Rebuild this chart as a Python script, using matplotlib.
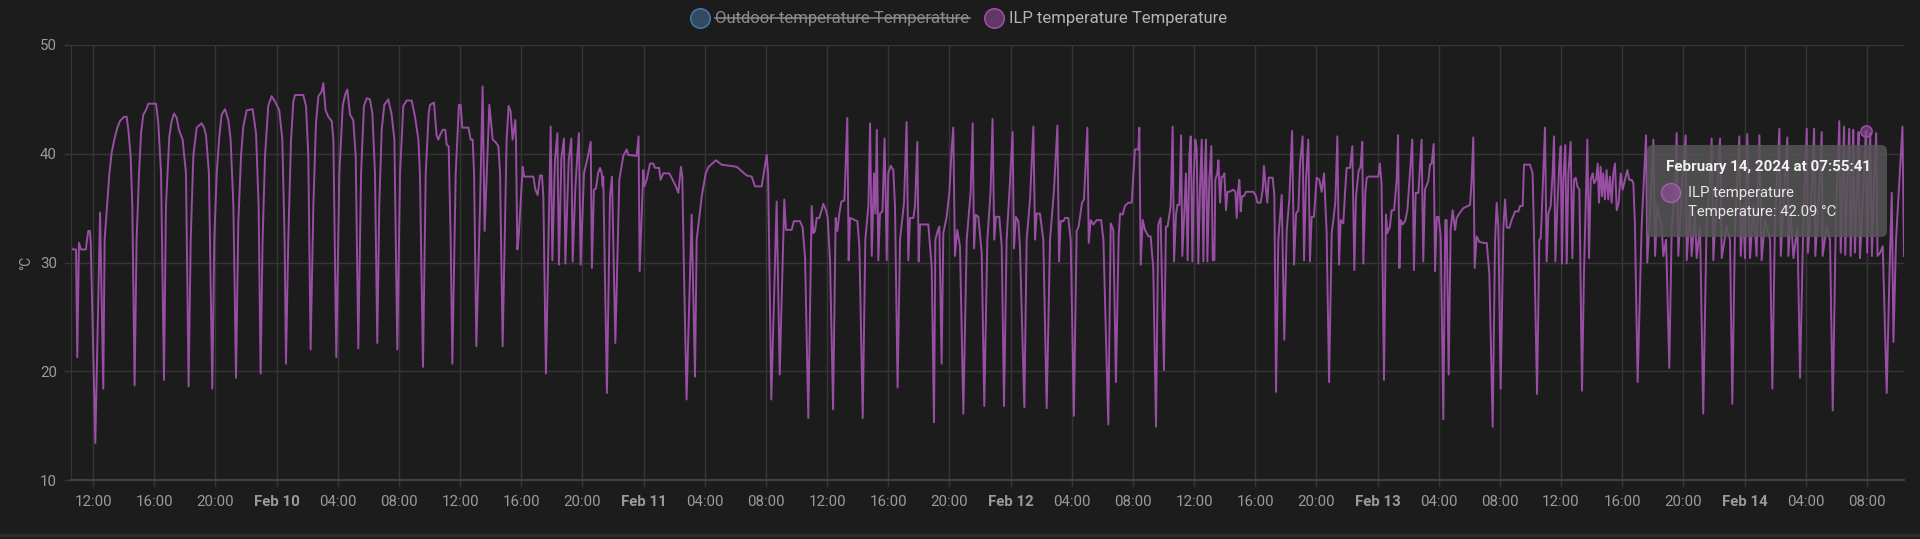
import numpy as np
import pandas as pd
import matplotlib
matplotlib.use("Agg")
import matplotlib.pyplot as plt
from matplotlib.patches import FancyBboxPatch, Circle
from matplotlib.lines import Line2D

plt.rcParams['font.family'] = ['Roboto', 'DejaVu Sans']

# ILP temperature readings, (hours since Feb 10 00:00, degC)
feb9_10 = [
    (-13.47, 31.7), (-13.41, 31.2), (-13.12, 31.2), (-13.04, 21.3), (-12.93, 31.8), (-12.80, 31.2),
    (-12.47, 31.2), (-12.43, 31.8), (-12.32, 32.9), (-12.21, 32.9), (-12.16, 31.8), (-11.86, 13.4),
    (-11.55, 34.6), (-11.34, 18.4), (-11.25, 32.1), (-10.94, 38.2), (-10.79, 40.1), (-10.62, 41.3),
    (-10.42, 42.4), (-10.25, 43.0), (-9.98, 43.4), (-9.81, 43.4), (-9.70, 42.2), (-9.55, 39.8),
    (-9.44, 35.2), (-9.29, 18.7), (-9.16, 32.1), (-9.00, 38.2), (-8.87, 41.9), (-8.72, 43.6),
    (-8.55, 44.0), (-8.39, 44.6), (-7.89, 44.6), (-7.74, 42.8), (-7.56, 38.2), (-7.37, 19.2),
    (-7.24, 35.2), (-7.02, 41.6), (-6.87, 43.0), (-6.71, 43.7), (-6.54, 43.3), (-6.39, 42.2),
    (-6.15, 41.3), (-5.93, 38.2), (-5.76, 18.6), (-5.62, 32.1), (-5.45, 39.8), (-5.23, 42.4),
    (-4.91, 42.8), (-4.75, 42.4), (-4.62, 41.7), (-4.43, 38.2), (-4.21, 18.4), (-4.08, 32.1),
    (-3.92, 38.2), (-3.75, 41.6), (-3.60, 43.6), (-3.38, 44.1), (-3.16, 43.1), (-3.01, 41.3),
    (-2.83, 35.2), (-2.66, 19.4), (-2.51, 33.6), (-2.33, 39.8), (-2.18, 42.5), (-1.96, 44.0),
    (-1.57, 44.1), (-1.35, 41.9), (-1.18, 35.2), (-1.05, 19.8), (-0.92, 32.1), (-0.76, 39.8),
    (-0.55, 44.4), (-0.33, 45.3), (-0.11, 44.8), (0.17, 44.0), (0.37, 41.3), (0.52, 32.1),
    (0.61, 20.7), (0.76, 32.1), (0.94, 41.3), (1.09, 44.8), (1.20, 45.4), (1.74, 45.4),
    (1.92, 44.4), (2.07, 39.8), (2.22, 22.0), (2.40, 35.2), (2.57, 42.8), (2.73, 45.3),
    (2.94, 45.7), (3.05, 46.5), (3.20, 44.0), (3.38, 43.4), (3.60, 43.0), (3.71, 41.3),
    (3.90, 21.3), (4.10, 38.2), (4.32, 44.4), (4.47, 45.4), (4.62, 45.9), (4.80, 43.6),
    (5.01, 43.1), (5.17, 39.8), (5.34, 22.1), (5.52, 38.2), (5.71, 44.4), (5.89, 45.1),
    (6.10, 45.0), (6.26, 43.7), (6.43, 38.2), (6.58, 22.6), (6.71, 35.2), (6.87, 42.2),
    (7.04, 44.5), (7.30, 45.0), (7.52, 43.6), (7.70, 41.3), (7.89, 22.0), (8.07, 38.2),
    (8.28, 44.4), (8.50, 44.9), (8.83, 44.9), (9.05, 43.4), (9.27, 41.3), (9.37, 38.2),
    (9.57, 20.4), (9.75, 38.2), (9.94, 43.7),
]

feb10_11 = [
    (10.03, 44.5), (10.29, 44.7), (10.46, 41.7), (10.57, 41.3), (10.68, 41.7), (10.86, 42.2),
    (11.03, 42.2), (11.12, 40.8), (11.25, 40.7), (11.38, 32.1), (11.49, 20.7), (11.71, 38.2),
    (11.92, 44.5), (12.03, 44.5), (12.14, 42.4), (12.54, 42.4), (12.69, 41.3), (12.82, 41.3),
    (12.91, 38.2), (13.06, 22.3), (13.30, 35.2), (13.47, 46.2), (13.60, 32.9), (13.91, 44.5),
    (14.13, 41.3), (14.30, 41.1), (14.50, 40.7), (14.61, 38.2), (14.78, 22.3), (15.04, 41.3),
    (15.17, 44.4), (15.30, 43.9), (15.43, 41.3), (15.61, 43.1), (15.65, 41.3), (15.74, 31.2),
    (15.83, 32.4), (16.09, 38.8), (16.18, 37.9), (16.79, 37.9), (16.92, 36.7), (17.07, 36.2),
    (17.22, 38.0), (17.35, 38.0), (17.44, 36.1), (17.61, 19.8), (17.92, 42.5), (18.03, 30.2),
    (18.20, 39.4), (18.36, 41.9), (18.46, 29.8), (18.62, 39.6), (18.79, 41.4), (18.88, 29.9),
    (19.10, 39.4), (19.27, 41.4), (19.36, 30.1), (19.53, 36.7), (19.66, 39.8), (19.77, 41.9),
    (19.88, 29.8), (20.10, 38.2), (20.36, 39.8), (20.54, 41.1), (20.62, 29.5), (20.75, 36.7),
    (20.88, 36.8), (21.02, 38.2), (21.15, 38.7), (21.26, 38.2), (21.32, 37.0), (21.36, 37.9),
    (21.60, 18.0), (21.80, 36.1), (21.93, 37.9), (22.15, 22.6), (22.41, 37.6), (22.67, 39.8),
    (22.89, 40.4), (22.99, 39.9), (23.54, 39.8), (23.67, 41.6), (23.74, 29.2), (23.98, 38.5),
    (24.05, 37.0), (24.20, 37.6), (24.42, 39.1), (24.63, 39.1), (24.74, 38.7), (25.01, 38.7),
    (25.11, 37.6), (25.29, 38.2), (25.68, 38.2), (25.83, 37.8), (26.11, 37.0), (26.27, 36.4),
    (26.44, 38.8), (26.53, 37.9), (26.64, 29.0), (26.81, 17.4), (27.14, 34.4), (27.36, 19.5),
    (27.47, 32.1), (27.80, 36.1), (28.06, 38.2), (28.25, 38.8), (28.73, 39.4), (29.10, 39.0),
    (30.09, 38.8), (30.74, 38.0), (31.07, 37.9), (31.28, 37.0), (31.72, 37.0), (32.05, 39.9),
    (32.14, 38.2), (32.35, 17.4), (32.70, 35.6), (32.90, 19.7), (33.20, 35.8), (33.31, 33.0),
    (33.68, 33.0), (33.83, 33.8), (34.23, 33.8),
]

feb11_12 = [
    (34.40, 33.2), (34.56, 30.4), (34.77, 15.7), (34.99, 35.2), (35.10, 32.7), (35.21, 32.9),
    (35.32, 34.1), (35.49, 34.1), (35.64, 34.8), (35.75, 35.4), (35.93, 34.8), (36.04, 34.1),
    (36.19, 30.2), (36.39, 16.5), (36.56, 34.1), (36.67, 32.9), (36.80, 34.5), (36.93, 35.6),
    (37.13, 35.7), (37.32, 43.3), (37.41, 30.2), (37.50, 34.1), (37.82, 33.9), (37.98, 33.8),
    (38.11, 31.5), (38.33, 15.7), (38.50, 32.1), (38.70, 35.2), (38.81, 42.8), (38.92, 30.6),
    (39.07, 38.2), (39.16, 34.5), (39.25, 42.2), (39.35, 30.2), (39.46, 34.5), (39.62, 34.7),
    (39.76, 41.4), (39.90, 30.2), (40.00, 38.2), (40.16, 38.9), (40.33, 38.5), (40.44, 35.2),
    (40.61, 18.5), (40.77, 32.1), (41.03, 35.5), (41.20, 42.9), (41.31, 30.2), (41.42, 34.1),
    (41.64, 34.1), (41.75, 35.2), (41.90, 41.1), (41.99, 30.1), (42.08, 33.5), (42.62, 33.5),
    (42.84, 29.6), (42.99, 15.3), (43.08, 32.1), (43.23, 32.9), (43.34, 33.3), (43.49, 20.7),
    (43.60, 32.7), (43.82, 34.2), (44.00, 36.5), (44.14, 40.4), (44.25, 42.4), (44.36, 30.6),
    (44.51, 33.0), (44.69, 31.5), (44.91, 16.1), (45.13, 32.1), (45.39, 36.5), (45.52, 42.8),
    (45.61, 31.3), (45.72, 34.4), (45.89, 34.2), (46.11, 30.9), (46.28, 16.8), (46.48, 32.1),
    (46.69, 36.5), (46.82, 43.2), (46.93, 32.1), (47.04, 34.2), (47.26, 34.2), (47.42, 31.5),
    (47.57, 16.8), (47.74, 32.1), (47.92, 36.4), (48.13, 42.0), (48.22, 31.3), (48.35, 34.2),
    (48.51, 33.8), (48.61, 31.5), (48.90, 16.7), (49.05, 32.1), (49.27, 35.8), (49.49, 42.5),
    (49.60, 32.1), (49.70, 34.5), (49.92, 34.5), (50.14, 32.1), (50.36, 16.6), (50.58, 32.1),
    (50.84, 36.7), (51.06, 42.6), (51.17, 30.1), (51.27, 33.8), (51.45, 33.8), (51.56, 34.1),
    (51.77, 34.1), (51.93, 32.1), (52.14, 15.9), (52.32, 32.9), (52.45, 33.3), (52.67, 35.5),
    (52.80, 35.8), (53.02, 42.4), (53.11, 31.8), (53.24, 33.9), (53.41, 33.5), (53.63, 33.9),
    (53.92, 33.9), (54.07, 32.1), (54.39, 15.1), (54.55, 33.6), (54.72, 33.0), (54.89, 19.0),
    (55.07, 32.5), (55.16, 34.5), (55.33, 34.4), (55.48, 35.2), (55.70, 35.5), (55.92, 35.5),
    (56.13, 40.4), (56.35, 40.4), (56.42, 42.4), (56.51, 29.8), (56.64, 33.9), (56.79, 33.0),
    (57.01, 32.4), (57.16, 32.4), (57.33, 29.5), (57.51, 14.9), (57.66, 33.5), (57.81, 34.1),
    (58.03, 20.1), (58.16, 33.3), (58.27, 33.3), (58.47, 35.2), (58.60, 42.5),
]

feb12_13 = [
    (58.69, 30.1), (58.82, 34.4), (58.91, 35.3), (59.04, 35.3), (59.15, 41.7), (59.23, 30.6),
    (59.34, 33.9), (59.47, 38.2), (59.58, 30.2), (59.69, 39.8), (59.78, 41.6), (59.89, 30.1),
    (59.99, 38.2), (60.08, 41.3), (60.17, 40.5), (60.28, 29.9), (60.39, 37.0), (60.50, 41.3),
    (60.61, 30.1), (60.69, 38.2), (60.78, 41.3), (60.87, 30.1), (61.00, 37.6), (61.13, 40.7),
    (61.22, 30.2), (61.33, 30.2), (61.39, 37.6), (61.52, 38.2), (61.59, 39.4), (61.70, 35.5),
    (61.80, 37.9), (61.91, 37.9), (61.98, 38.2), (62.09, 34.8), (62.18, 36.5), (62.31, 36.5),
    (62.57, 36.7), (62.70, 36.5), (62.79, 34.1), (62.87, 36.5), (62.96, 37.6), (63.05, 34.7),
    (63.13, 36.1), (63.26, 36.1), (63.40, 36.5), (63.66, 36.5), (63.88, 36.5), (64.05, 36.1),
    (64.14, 35.5), (64.35, 35.5), (64.49, 36.7), (64.57, 38.9), (64.70, 36.7), (64.79, 35.5),
    (64.88, 37.8), (65.14, 37.8), (65.25, 36.2), (65.36, 18.1), (65.51, 32.1), (65.73, 36.2),
    (65.90, 22.9), (66.06, 33.0), (66.23, 35.8), (66.41, 42.1), (66.54, 29.8), (66.67, 34.5),
    (66.82, 34.8), (66.93, 39.1), (67.10, 41.6), (67.19, 30.2), (67.32, 37.6), (67.47, 41.3),
    (67.58, 30.1), (67.69, 34.2), (67.84, 34.2), (68.02, 37.8), (68.19, 37.6), (68.34, 36.5),
    (68.50, 38.2), (68.67, 32.7), (68.83, 19.0), (69.00, 32.7), (69.11, 33.9), (69.24, 35.6),
    (69.37, 41.6), (69.48, 29.8), (69.59, 33.9), (69.76, 33.6), (69.87, 36.4), (69.98, 38.7),
    (70.20, 38.7), (70.35, 40.7), (70.48, 29.3), (70.59, 36.1), (70.76, 38.4), (70.89, 38.8),
    (71.00, 41.1), (71.07, 29.9), (71.20, 36.4), (71.29, 37.8), (71.39, 37.9), (71.72, 37.9),
    (72.05, 37.9), (72.15, 39.1), (72.26, 37.3), (72.42, 19.2), (72.55, 34.4), (72.64, 32.7),
    (72.81, 33.3), (72.92, 34.8), (73.08, 34.8), (73.25, 37.6), (73.34, 41.7), (73.43, 29.5),
    (73.51, 33.9), (73.64, 33.5), (73.80, 33.8), (73.95, 34.8), (74.12, 38.2), (74.27, 41.3),
    (74.38, 29.3), (74.49, 36.4), (74.67, 36.4), (74.77, 38.8), (74.88, 41.3), (74.99, 30.1),
    (75.10, 36.7), (75.32, 37.5), (75.43, 39.0), (75.54, 39.1), (75.67, 40.9), (75.76, 29.2),
    (75.87, 34.2), (75.99, 34.2), (76.13, 32.4), (76.30, 15.6), (76.43, 33.9), (76.52, 33.9),
    (76.65, 19.7), (76.78, 33.0), (76.91, 34.8), (77.07, 33.0), (77.17, 34.1), (77.35, 34.5),
    (77.61, 35.0), (78.05, 35.3), (78.15, 37.5), (78.26, 41.5), (78.35, 29.5), (78.48, 32.4),
    (78.66, 31.9), (78.92, 31.8), (79.14, 31.8), (79.31, 29.0), (79.53, 14.9), (79.68, 31.8),
    (79.79, 35.5), (79.90, 33.2), (80.05, 18.4), (80.23, 33.2), (80.34, 35.8), (80.45, 33.2),
    (80.62, 33.2), (80.77, 33.9), (80.99, 34.7), (81.21, 34.7), (81.32, 35.2), (81.49, 35.2),
    (81.58, 39.0), (81.97, 39.0), (82.14, 38.2), (82.23, 32.7), (82.43, 17.9), (82.58, 32.1),
    (82.67, 32.2),
]

feb13_14 = [
    (82.73, 34.2), (82.84, 38.2), (82.95, 42.4), (83.06, 30.1), (83.17, 34.5), (83.32, 35.2),
    (83.45, 38.2), (83.54, 41.6), (83.63, 30.1), (83.76, 35.2), (83.89, 39.1), (83.98, 40.7),
    (84.06, 29.9), (84.15, 37.6), (84.28, 40.8), (84.37, 29.9), (84.48, 38.2), (84.63, 41.1),
    (84.74, 30.4), (84.85, 37.6), (84.96, 37.8), (85.07, 37.0), (85.20, 36.7), (85.37, 18.2),
    (85.50, 29.0), (85.61, 35.2), (85.72, 41.3), (85.83, 30.4), (85.94, 37.6), (86.07, 38.2),
    (86.16, 37.3), (86.29, 37.6), (86.40, 39.1), (86.48, 35.5), (86.59, 38.8), (86.68, 36.1),
    (86.76, 38.2), (86.87, 35.8), (86.98, 38.5), (87.09, 35.8), (87.20, 37.9), (87.31, 35.5),
    (87.42, 38.2), (87.53, 39.1), (87.64, 34.8), (87.77, 35.5), (87.90, 38.2), (88.03, 36.7),
    (88.18, 37.6), (88.33, 38.5), (88.46, 37.6), (88.62, 37.6), (88.73, 37.3), (88.83, 33.6),
    (89.01, 19.0), (89.27, 33.3), (89.56, 41.7), (89.64, 30.0), (89.82, 34.5), (90.04, 41.3),
    (90.15, 30.6), (90.30, 35.2), (90.58, 33.3), (90.69, 30.6), (90.87, 32.1), (91.08, 20.3),
    (91.24, 33.3), (91.45, 36.7), (91.56, 41.9), (91.67, 30.6), (91.89, 36.7), (92.15, 41.7),
    (92.22, 30.2), (92.43, 35.2), (92.54, 30.6), (92.76, 34.5), (92.87, 30.4), (93.09, 33.3),
    (93.30, 16.1), (93.52, 33.6), (93.74, 37.6), (93.85, 41.4), (93.96, 30.2), (94.18, 36.1),
    (94.40, 41.4), (94.51, 30.4), (94.83, 33.3), (95.05, 32.1), (95.20, 17.0), (95.38, 33.3),
    (95.66, 41.6), (95.75, 30.6), (95.92, 35.2), (96.03, 30.4), (96.18, 41.8), (96.36, 30.4),
    (96.58, 35.2), (96.79, 30.6), (96.97, 41.7), (97.12, 30.2), (97.34, 33.9), (97.67, 32.1),
    (97.82, 18.4), (97.99, 33.6), (98.28, 42.3), (98.37, 30.6), (98.54, 35.2), (98.80, 41.5),
    (98.87, 30.6), (99.02, 34.5), (99.20, 30.4), (99.46, 33.3), (99.63, 19.4), (99.85, 33.9),
    (100.07, 42.3), (100.15, 30.9), (100.39, 36.4), (100.55, 42.3), (100.63, 30.6), (100.89, 36.7),
    (101.05, 42.0), (101.11, 30.6), (101.37, 33.3), (101.59, 32.1), (101.77, 16.4), (101.98, 34.5),
    (102.20, 43.0), (102.29, 30.9), (102.42, 37.6), (102.51, 42.5), (102.59, 30.7), (102.72, 37.6),
    (102.85, 42.3), (102.94, 30.6), (103.07, 37.6), (103.11, 42.2), (103.22, 30.9), (103.37, 37.6),
    (103.46, 42.0), (103.55, 30.4), (103.80, 37.6), (103.93, 42.09), (104.02, 30.9), (104.13, 37.6),
    (104.22, 41.9), (104.33, 30.6), (104.48, 37.6), (104.61, 41.9), (104.70, 30.6), (104.87, 30.9),
    (105.04, 31.5), (105.30, 18.0), (105.48, 29.0), (105.63, 36.4), (105.74, 22.7), (105.91, 32.1),
    (106.13, 37.6), (106.33, 42.5), (106.43, 30.6),
]

legend_labels = ["Outdoor temperature Temperature", "ILP temperature Temperature"]
hover_hour = 103.93
tooltip_title = "February 14, 2024 at 07:55:41"
tooltip_name = "ILP temperature"
tooltip_value = "Temperature: 42.09 °C"
y_ticks = [10, 20, 30, 40, 50]

BG = '#1c1c1c'
GRID = '#363636'
TXT = '#9a9a9a'
OUTDOOR = '#44739e'
ILP = '#984ea3'

start = pd.Timestamp('2024-02-10 00:00')
points = feb9_10 + feb10_11 + feb11_12 + feb12_13 + feb13_14
hours = np.array([p[0] for p in points])
temps = np.array([p[1] for p in points])
times = start + pd.to_timedelta(hours, unit='h')

fig = plt.figure(figsize=(19.2, 5.39), dpi=100, facecolor=BG)
ax = fig.add_axes([70.7 / 1920, 1 - 480 / 539, (1904 - 70.7) / 1920, 435 / 539])
ax.set_facecolor(BG)

ax.plot(times, temps, color=ILP, lw=1.4)

# hovered point
hi = int(np.argmin(np.abs(hours - hover_hour)))
ax.plot(times[hi], temps[hi], marker='o', ms=8, mfc=(0.6, 0.31, 0.64, 0.55), mec=ILP, mew=1.2,
        zorder=5, clip_on=False)

ax.set_xlim(times[0], times[-1])
ax.set_ylim(10, 50)
ax.set_yticks(y_ticks)

ticks = pd.date_range('2024-02-09 12:00', '2024-02-14 08:00', freq='4h')
tick_labels = [f"{d:%b} {d.day}" if d.hour == 0 else f"{d:%H:%M}" for d in ticks]
ax.set_xticks(ticks.to_pydatetime())
ax.set_xticklabels(tick_labels)
for lbl, d in zip(ax.get_xticklabels(), ticks):
    if d.hour == 0:
        lbl.set_fontweight('bold')
        lbl.set_color('#b0b0b0')

ax.grid(True, color=GRID, lw=1)
for s in ['top', 'right']:
    ax.spines[s].set_visible(False)
ax.spines['left'].set_color(GRID)
ax.spines['bottom'].set_color('#474747')
ax.spines['bottom'].set_linewidth(1.3)
ax.tick_params(axis='both', colors=GRID, labelcolor=TXT, labelsize=10.8, length=5, width=1)
ax.tick_params(axis='x', pad=6)
ax.tick_params(axis='y', pad=5)

ax.set_ylabel('°C', color=TXT, fontsize=10)
ax.yaxis.set_label_coords(-0.0205, 0.5)

# legend at the top
handles = [Line2D([], [], marker='o', ls='', ms=14, mfc=(0.27, 0.45, 0.62, 0.55), mec=OUTDOOR, mew=1.2),
           Line2D([], [], marker='o', ls='', ms=14, mfc=(0.6, 0.31, 0.64, 0.55), mec=ILP, mew=1.2)]
leg = fig.legend(handles, legend_labels, loc='center', bbox_to_anchor=(0.4995, 1 - 19 / 539), ncol=2,
                 frameon=False, fontsize=12, handlelength=1.1, handletextpad=0.35, columnspacing=0.9)
leg.get_texts()[0].set_color('#8c8c8c')
leg.get_texts()[1].set_color('#b4b4b4')

# tooltip box
tip = FancyBboxPatch((16.47, 3.02), 2.40, 0.92, boxstyle='round,pad=0,rounding_size=0.06',
                     transform=fig.dpi_scale_trans, facecolor='#555555', edgecolor='none', alpha=0.85, zorder=10)
fig.add_artist(tip)
fig.text(16.66, (539 - 167) / 100, tooltip_title, transform=fig.dpi_scale_trans, color='#f2f2f2',
         fontsize=10.9, fontweight='bold', va='center', ha='left', zorder=11)
fig.add_artist(Circle((16.71, (539 - 193) / 100), 0.095, transform=fig.dpi_scale_trans,
                      facecolor=(0.6, 0.31, 0.64, 0.6), edgecolor=(0.7, 0.4, 0.75, 0.8), lw=1, zorder=11))
fig.text(16.88, (539 - 193) / 100, tooltip_name, transform=fig.dpi_scale_trans, color='#e8e8e8',
         fontsize=10.7, va='center', ha='left', zorder=11)
fig.text(16.88, (539 - 212) / 100, tooltip_value, transform=fig.dpi_scale_trans, color='#e8e8e8',
         fontsize=10.7, va='center', ha='left', zorder=11)

# card bottom edge
fig.add_artist(Line2D([0, 1], [1 - 535 / 539] * 2, transform=fig.transFigure, color='#2e2e2e', lw=2.5))

# strike through the hidden series label
fig.canvas.draw()
bb = leg.get_texts()[0].get_window_extent(fig.canvas.get_renderer())
ymid = bb.y0 + bb.height * 0.55
fig.add_artist(Line2D([bb.x0 / 1920, bb.x1 / 1920], [ymid / 539] * 2, transform=fig.transFigure,
                      color='#8c8c8c', lw=1.1))

fig.savefig('out.png', dpi=100, facecolor=BG)
